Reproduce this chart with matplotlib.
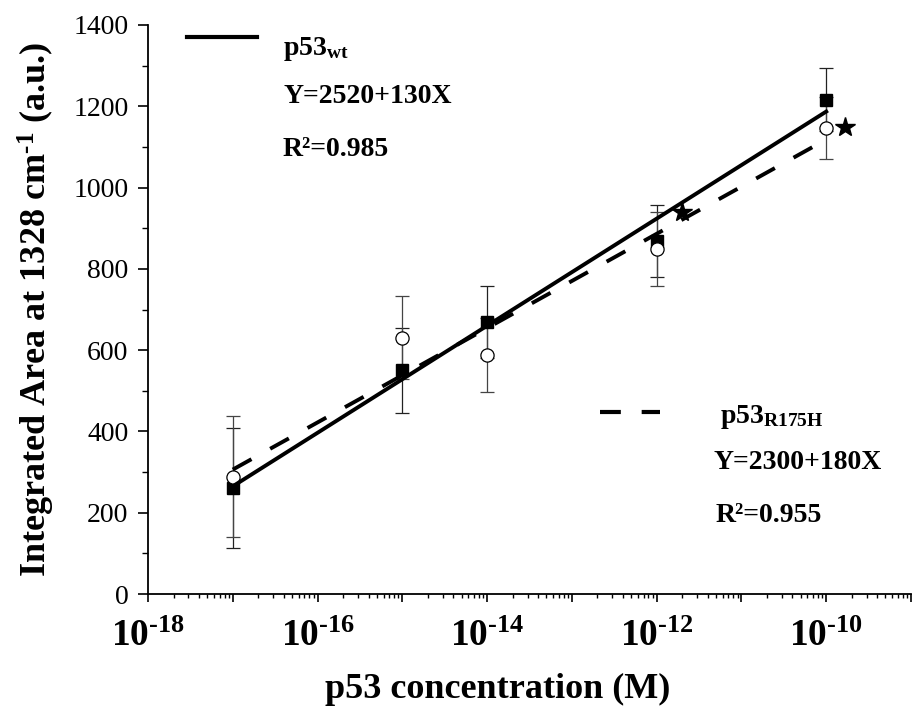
import numpy as np
import matplotlib.pyplot as plt
from matplotlib.ticker import LogLocator, FuncFormatter, MultipleLocator, NullFormatter

plt.rcParams['font.family'] = 'Liberation Serif'
plt.rcParams['mathtext.fontset'] = 'custom'
plt.rcParams['mathtext.rm'] = 'Liberation Serif'
plt.rcParams['mathtext.bf'] = 'Liberation Serif:bold'
plt.rcParams['mathtext.it'] = 'Liberation Serif:italic'

HYPH = '\u2010'

# p53 concentrations (M) and integrated areas
conc = np.array([1e-17, 1e-15, 1e-14, 1e-12, 1e-10])
wt_area = np.array([260, 550, 669, 869, 1216])
wt_err = np.array([148, 105, 89, 89, 78])
mut_area = np.array([289, 630, 588, 849, 1147])
mut_err = np.array([149, 102, 91, 90, 77])
star_conc = np.array([2.0e-12, 1.65e-10])
star_area = np.array([940, 1150])

wt_label = [r'p53$_{\mathbf{wt}}$', 'Y=2520+130X', 'R\u00b2=0.985']
mut_label = [r'p53$_{\mathbf{R175H}}$', 'Y=2300+180X', 'R\u00b2=0.955']

# linear fits in log10(concentration)
logc = np.log10(conc)
wt_fit = np.polyfit(logc, wt_area, 1)
mut_fit = np.polyfit(logc, mut_area, 1)
x_fit = np.linspace(logc.min(), logc.max(), 50)

fig = plt.figure(figsize=(9.19, 7.10), dpi=100)
ax = fig.add_axes([148/919, 1-594/710, (911-148)/919, (594-25)/710])

ax.errorbar(conc, wt_area, yerr=wt_err, fmt='s', color='black', ms=9,
            ecolor='#222222', elinewidth=0.9, capsize=5, capthick=0.9, zorder=2)
ax.errorbar(conc, mut_area, yerr=mut_err, fmt='o', mfc='white', mec='black', mew=0.9,
            ms=9.5, ecolor='#444444', elinewidth=0.9, capsize=5, capthick=0.9, zorder=2)
ax.plot(10**x_fit, np.polyval(wt_fit, x_fit), color='black', lw=2.8, zorder=3)
ax.plot(10**x_fit, np.polyval(mut_fit, x_fit), color='black', lw=2.8,
        dashes=(5.5, 5.5), zorder=3)
ax.plot(star_conc, star_area, '*', color='black', ms=15, zorder=4)

ax.set_xscale('log')
ax.set_xlim(1e-18, 1e-9)
ax.set_ylim(0, 1400)

ax.xaxis.set_major_locator(LogLocator(base=10, numticks=20))
ax.xaxis.set_minor_locator(LogLocator(base=10, subs=np.arange(2, 10), numticks=20))
ax.xaxis.set_minor_formatter(NullFormatter())


def dec_fmt(v, pos):
    e = int(round(np.log10(v)))
    if e % 2:
        return ''
    return '$\\mathbf{10^{' + HYPH + str(-e) + '}}$'


ax.xaxis.set_major_formatter(FuncFormatter(dec_fmt))
ax.yaxis.set_major_locator(MultipleLocator(200))
ax.yaxis.set_minor_locator(MultipleLocator(100))

for s in ['top', 'right']:
    ax.spines[s].set_visible(False)
for s in ['left', 'bottom']:
    ax.spines[s].set_linewidth(1.3)

ax.tick_params(axis='x', which='major', direction='out', length=6, width=1.2,
               labelsize=27, pad=12)
ax.tick_params(axis='x', which='minor', direction='out', length=3, width=1.0)
ax.tick_params(axis='y', which='major', direction='out', length=7, width=1.2,
               labelsize=20, pad=7)
ax.tick_params(axis='y', which='minor', direction='out', length=4.5, width=1.0)

ax.set_xlabel('p53 concentration (M)', fontsize=26, fontweight='bold')
ax.xaxis.set_label_coords((498-148)/763, -(673-594)/569)
ax.set_ylabel('Integrated Area at 1328 cm$^{\\mathbf{' + HYPH + '1}}$ (a.u.)', fontsize=26,
              fontweight='bold', labelpad=12)

# legend-like annotations
ax.plot([187/919, 257/919], [1-37/710]*2, color='black', lw=3, transform=fig.transFigure,
        clip_on=False)
for txt, yb in zip(wt_label, [55, 103, 156]):
    fig.text(283/919, 1-yb/710, txt, fontsize=20, fontweight='bold', va='baseline', ha='left')

ax.plot([600/919, 660/919], [1-412/710]*2, color='black', lw=3, dashes=(5, 5),
        transform=fig.transFigure, clip_on=False)
for txt, xs, yb in zip(mut_label, [720, 713, 716], [423, 469, 522]):
    fig.text(xs/919, 1-yb/710, txt, fontsize=20, fontweight='bold', va='baseline', ha='left')

fig.savefig('out.png', dpi=100)
